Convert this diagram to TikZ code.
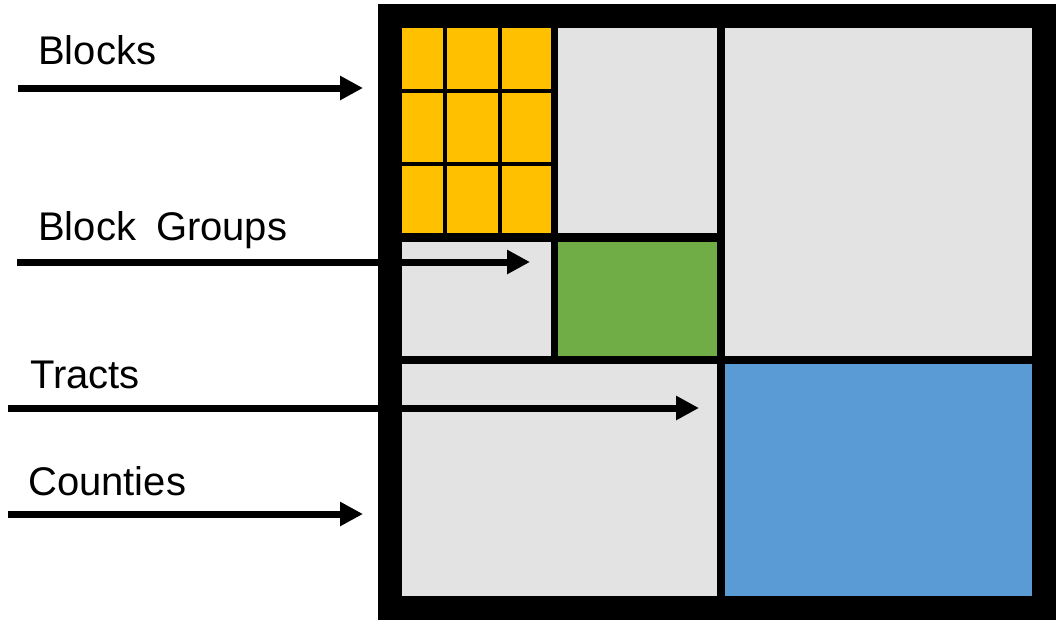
\documentclass[tikz,border=0pt]{standalone}
\usepackage{fontspec}
\setmainfont{Liberation Sans}
\usetikzlibrary{arrows.meta}
\definecolor{cellyellow}{HTML}{FFC000}
\definecolor{cellgreen}{HTML}{70AD47}
\definecolor{cellblue}{HTML}{5B9BD5}
\definecolor{cellgray}{HTML}{E3E3E3}
\tikzset{
  lbl/.style={anchor=base west, inner sep=0pt, font=\fontsize{40}{48}\selectfont},
  ptr/.style={line width=7pt, -{Triangle[length=23pt,width=23pt]}},
  thin grid/.style={line width=4pt},
  mid grid/.style={line width=8pt},
  frame/.style={line width=24pt}
}
\begin{document}
\begin{tikzpicture}[x=1pt,y=-1pt]
\useasboundingbox (0,0) rectangle (1063,627);
% fills
\fill[cellgray] (402,28) rectangle (1032,596);
\fill[cellyellow] (402,28) rectangle (551,233);
\fill[cellgreen] (558,242) rectangle (717,356);
\fill[cellblue] (725,364) rectangle (1032,596);
% block grid
\draw[thin grid] (445,28) -- (445,233);
\draw[thin grid] (500,28) -- (500,233);
\draw[thin grid] (402,90.5) -- (551,90.5);
\draw[thin grid] (402,164) -- (551,164);
% block group lines
\draw[line width=7pt] (554.5,28) -- (554.5,364);
\draw[line width=9pt] (402,237.5) -- (725,237.5);
% tract lines
\draw[mid grid] (721,28) -- (721,596);
\draw[mid grid] (402,360) -- (1032,360);
% county frame
\draw[frame] (390,16) rectangle (1044,608);
% labels
\node[lbl] (tBlocks) at (38,64) {Blocks};
\node[lbl] (tBG) at (38,240) {Block\hspace{20pt}Groups};
\node[lbl] (tTracts) at (30,388) {Tracts};
\node[lbl] (tCounties) at (28,495) {Counties};
% arrow ends
\coordinate (aBs) at (18,88);  \coordinate (aBe) at (363,88);
\coordinate (aGs) at (17,262); \coordinate (aGe) at (530,262);
\coordinate (aTs) at (8,408);  \coordinate (aTe) at (699,408);
\coordinate (aCs) at (8,514);  \coordinate (aCe) at (363,514);
\draw[ptr] (aBs) -- (aBe);
\draw[ptr] (aGs) -- (aGe);
\draw[ptr] (aTs) -- (aTe);
\draw[ptr] (aCs) -- (aCe);
\end{tikzpicture}
\end{document}
